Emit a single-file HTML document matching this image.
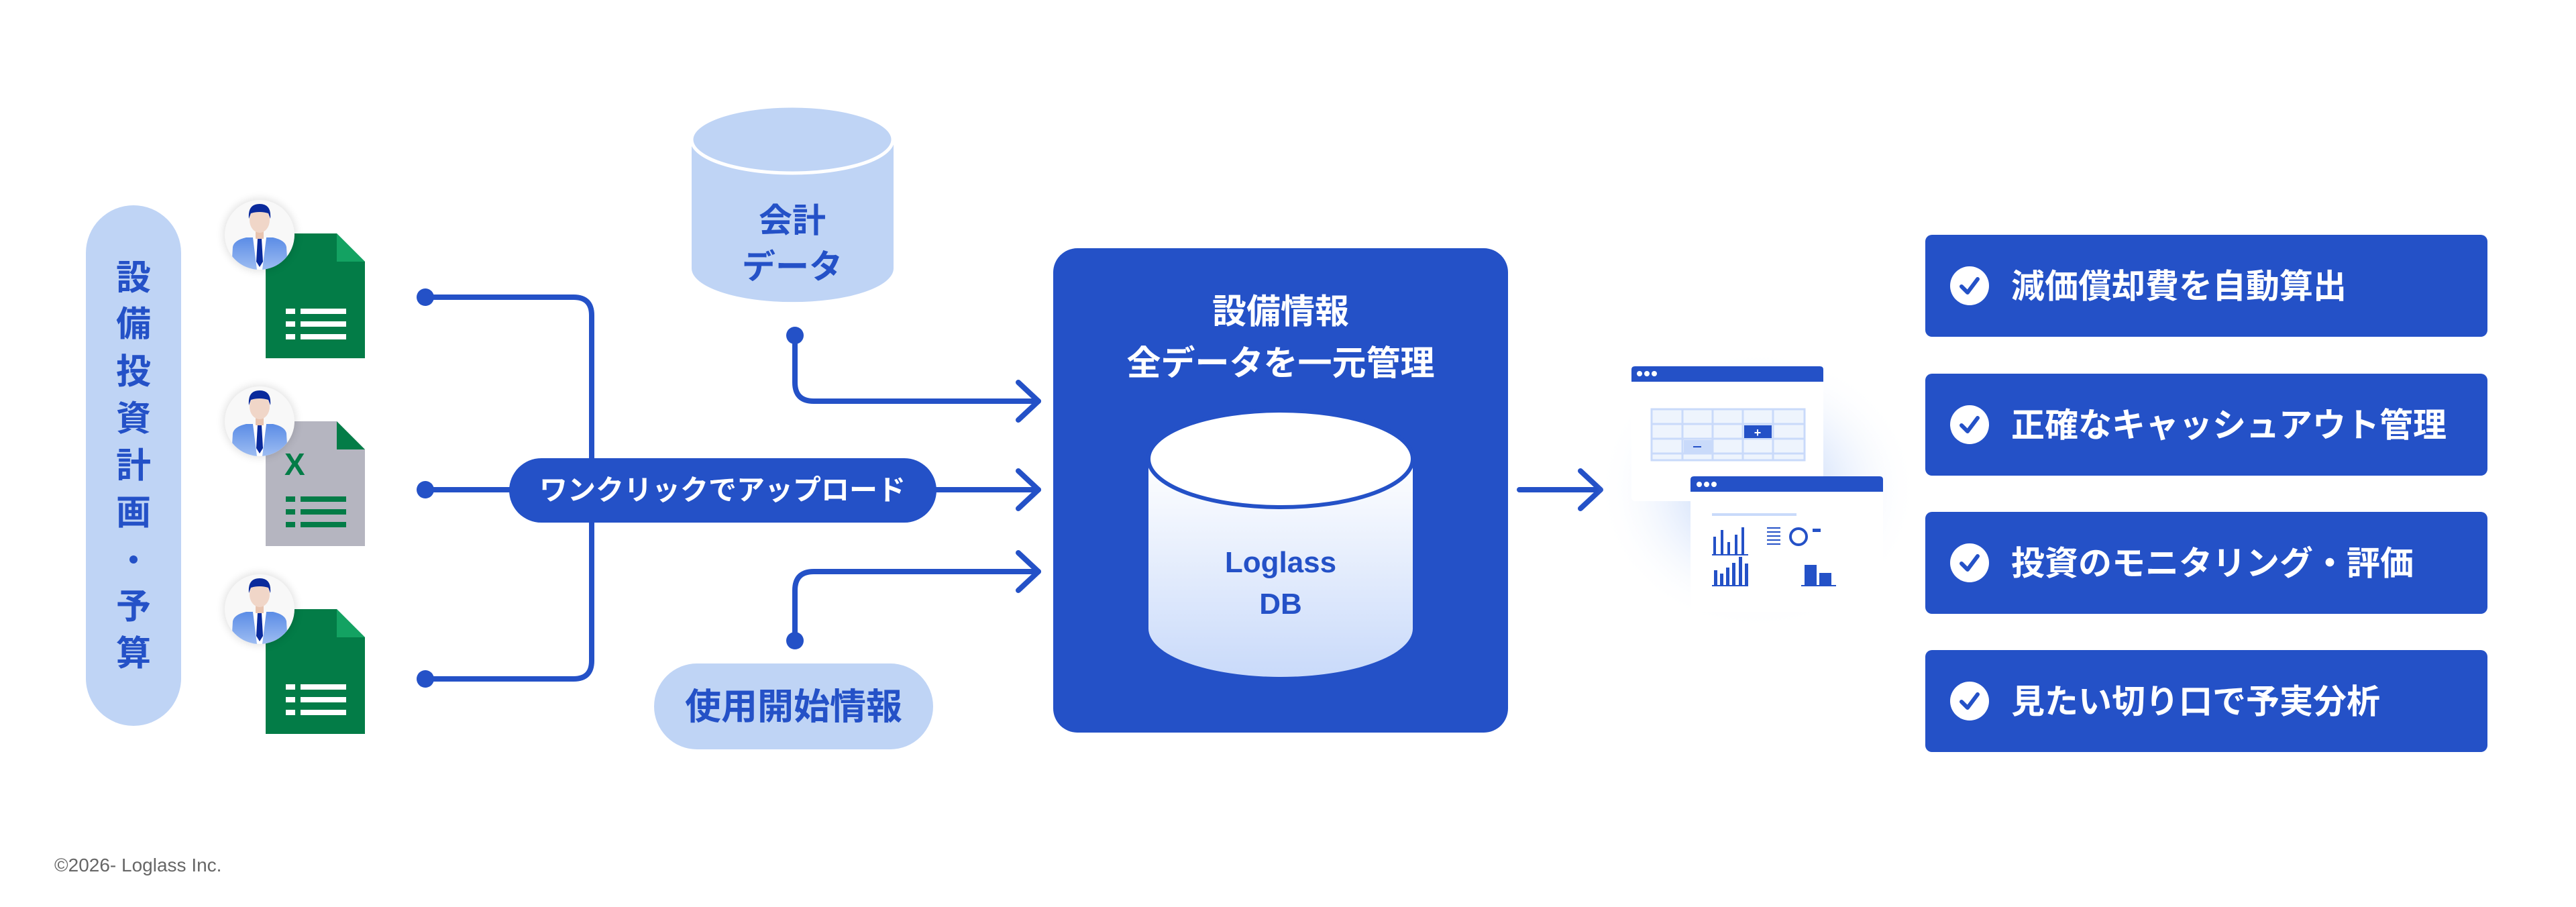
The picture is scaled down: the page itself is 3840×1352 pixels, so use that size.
<!DOCTYPE html>
<html><head><meta charset="utf-8"><style>
html,body{margin:0;padding:0;background:#fff;}
svg{display:block;}
text{font-family:"Liberation Sans","Noto Sans CJK JP",sans-serif;font-weight:bold;}
</style></head><body>
<svg width="3840" height="1352" viewBox="0 0 3840 1352" xmlns="http://www.w3.org/2000/svg">
<defs>
<linearGradient id="dbg" x1="0" y1="0" x2="0" y2="1"><stop offset="0" stop-color="#ffffff"/><stop offset="1" stop-color="#c9dafa"/></linearGradient>
<linearGradient id="suit" x1="0" y1="0" x2="0" y2="1"><stop offset="0" stop-color="#5b8ce6"/><stop offset="1" stop-color="#9dbcf2"/></linearGradient>
<radialGradient id="glow" cx="0.5" cy="0.5" r="0.5"><stop offset="0.4" stop-color="#d4e2fb" stop-opacity="0.8"/><stop offset="1" stop-color="#ffffff" stop-opacity="0"/></radialGradient>
<filter id="sh" x="-30%" y="-30%" width="160%" height="160%"><feGaussianBlur stdDeviation="6"/></filter>
<g id="person">
<circle r="54" fill="#000" opacity="0.12" filter="url(#sh)"/>
<circle r="52" fill="#f8f8f8"/>
<clipPath id="pc"><circle r="52"/></clipPath>
<g clip-path="url(#pc)">
<path d="M-42 52 L-40 18 Q-38 8 -20 4 L20 4 Q38 8 40 18 L42 52 Z" fill="url(#suit)"/>
<path d="M-10 4 L10 4 L4 52 L-4 52 Z" fill="#fff"/>
<path d="M-3 6 L3 6 L5 40 L0 48 L-5 40 Z" fill="#0a2a9c"/>
<rect x="-6" y="-8" width="12" height="14" fill="#e8c4b0"/>
<ellipse cx="0" cy="-22" rx="15" ry="19" fill="#f0d6c8"/>
<path d="M-16 -24 Q-18 -46 0 -46 Q18 -46 16 -24 L13 -32 Q0 -36 -13 -32 Z" fill="#0a2a9c"/>
</g>
</g>
<g id="sheet">
<path d="M0 0 L106 0 L148 42 L148 186 L0 186 Z" fill="#037c47"/>
<path d="M106 0 L148 42 L106 42 Z" fill="#13a262"/>
<g fill="#fff"><rect x="30" y="112" width="14" height="8"/><rect x="52" y="112" width="68" height="8"/><rect x="30" y="131" width="14" height="8"/><rect x="52" y="131" width="68" height="8"/><rect x="30" y="150" width="14" height="8"/><rect x="52" y="150" width="68" height="8"/></g>
</g>
</defs>

<rect x="128" y="306" width="142" height="776" rx="71" fill="#bfd4f5"/>
<g fill="#2451c7" font-size="52" text-anchor="middle">
<text x="199" y="432">設</text><text x="199" y="501">備</text><text x="199" y="572">投</text><text x="199" y="642">資</text><text x="199" y="712">計</text><text x="199" y="782">画</text>
<circle cx="199" cy="834" r="6"/>
<text x="199" y="922">予</text><text x="199" y="992">算</text>
</g>

<use href="#sheet" x="396" y="348"/>
<g transform="translate(396,628)">
<path d="M0 0 L106 0 L148 42 L148 186 L0 186 Z" fill="#b5b5c0"/>
<path d="M106 0 L148 42 L106 42 Z" fill="#037c47"/>
<text x="28" y="80" font-size="46" fill="#037c47" font-family="Liberation Sans">X</text>
<g fill="#037c47"><rect x="30" y="112" width="14" height="8"/><rect x="52" y="112" width="68" height="8"/><rect x="30" y="131" width="14" height="8"/><rect x="52" y="131" width="68" height="8"/><rect x="30" y="150" width="14" height="8"/><rect x="52" y="150" width="68" height="8"/></g>
</g>
<use href="#sheet" x="396" y="908"/>
<use href="#person" x="387" y="350"/>
<use href="#person" x="387" y="628"/>
<use href="#person" x="387" y="908"/>

<g fill="none" stroke="#2451c7" stroke-width="8" stroke-linecap="round" stroke-linejoin="round">
<path d="M634 443 L855 443 Q882 443 882 470 L882 985 Q882 1012 855 1012 L634 1012"/>
<path d="M634 730 L1548 730"/>
<path d="M1185 500 L1185 570 Q1185 598 1213 598 L1548 598"/>
<path d="M1185 955 L1185 880 Q1185 852 1213 852 L1548 852"/>
<path d="M1518 570 L1548 598 L1518 626 M1518 702 L1548 730 L1518 758 M1518 824 L1548 852 L1518 880"/>
<path d="M2265 730 L2385 730 M2356 702 L2386 730 L2356 758"/>
</g>
<g fill="#2451c7"><circle cx="634" cy="443" r="13"/><circle cx="634" cy="730" r="13"/><circle cx="634" cy="1012" r="13"/><circle cx="1185" cy="500" r="13"/><circle cx="1185" cy="955" r="13"/></g>

<rect x="759" y="683" width="637" height="96" rx="48" fill="#2451c7"/>
<text x="1077" y="745" font-size="42" fill="#fff" text-anchor="middle">ワンクリックでアップロード</text>

<path d="M1031 208 L1031 400 A150 50 0 0 0 1332 400 L1332 208 Z" fill="#bfd4f5"/>
<ellipse cx="1181" cy="208" rx="150" ry="50" fill="#bfd4f5" stroke="#fff" stroke-width="5"/>
<text x="1181" y="346" font-size="50" fill="#2451c7" text-anchor="middle">会計</text>
<text x="1181" y="415" font-size="50" fill="#2451c7" text-anchor="middle">データ</text>

<rect x="975" y="989" width="416" height="128" rx="64" fill="#bfd4f5"/>
<text x="1183" y="1072" font-size="54" fill="#2451c7" text-anchor="middle">使用開始情報</text>

<rect x="1570" y="370" width="678" height="722" rx="36" fill="#2451c7"/>
<text x="1909" y="482" font-size="51" fill="#fff" text-anchor="middle">設備情報</text>
<text x="1909" y="559" font-size="51" fill="#fff" text-anchor="middle">全データを一元管理</text>
<path d="M1712 684 L1712 937 A197 72 0 0 0 2106 937 L2106 684 Z" fill="url(#dbg)"/>
<ellipse cx="1909" cy="684" rx="197" ry="72" fill="#fff" stroke="#2451c7" stroke-width="6"/>
<text x="1909" y="853" font-size="44" fill="#2451c7" text-anchor="middle">Loglass</text>
<text x="1909" y="915" font-size="44" fill="#2451c7" text-anchor="middle">DB</text>

<ellipse cx="2620" cy="730" rx="240" ry="210" fill="url(#glow)"/>
<g>
<rect x="2432" y="546" width="286" height="201" rx="5" fill="#fff"/>
<path d="M2432 551 Q2432 546 2437 546 L2713 546 Q2718 546 2718 551 L2718 569 L2432 569 Z" fill="#2451c7"/>
<g fill="#fff"><circle cx="2444" cy="557" r="4"/><circle cx="2455" cy="557" r="4"/><circle cx="2466" cy="557" r="4"/></g>
<rect x="2462" y="610" width="228" height="76" fill="#eef4fd" stroke="#c9dafa" stroke-width="3"/>
<g stroke="#c9dafa" stroke-width="3"><path d="M2508 610 V686 M2553 610 V686 M2598 610 V686 M2643 610 V686 M2462 632 H2690 M2462 654 H2690 M2462 676 H2690"/></g>
<rect x="2600" y="634" width="41" height="19" fill="#2451c7"/><text x="2620" y="651" font-size="18" fill="#fff" text-anchor="middle">+</text>
<rect x="2510" y="656" width="42" height="19" fill="#c9dafa"/><rect x="2524" y="665" width="12" height="2" fill="#2451c7"/>
</g>
<g>
<rect x="2520" y="710" width="287" height="203" rx="5" fill="#fff"/>
<path d="M2520 715 Q2520 710 2525 710 L2802 710 Q2807 710 2807 715 L2807 733 L2520 733 Z" fill="#2451c7"/>
<g fill="#fff"><circle cx="2533" cy="722" r="4"/><circle cx="2544" cy="722" r="4"/><circle cx="2555" cy="722" r="4"/></g>
<rect x="2552" y="765" width="126" height="4" fill="#c9dafa"/>
<g fill="#2451c7"><rect x="2554" y="800" width="4" height="26"/><rect x="2565" y="790" width="4" height="36"/><rect x="2575" y="808" width="4" height="18"/><rect x="2586" y="797" width="4" height="29"/><rect x="2596" y="786" width="4" height="40"/>
<rect x="2555" y="850" width="5" height="22"/><rect x="2564" y="855" width="5" height="17"/><rect x="2573" y="846" width="5" height="26"/><rect x="2582" y="839" width="5" height="33"/><rect x="2592" y="830" width="5" height="42"/><rect x="2601" y="840" width="5" height="32"/>
<rect x="2690" y="842" width="18" height="30"/><rect x="2712" y="854" width="18" height="18"/><rect x="2702" y="788" width="12" height="5"/></g>
<rect x="2552" y="826" width="54" height="2" fill="#2451c7"/><rect x="2552" y="872" width="54" height="2" fill="#2451c7"/><rect x="2685" y="872" width="52" height="2" fill="#2451c7"/>
<circle cx="2681" cy="800" r="12" fill="none" stroke="#2451c7" stroke-width="4"/>
<g fill="#2451c7"><rect x="2634" y="786" width="20" height="2"/><rect x="2634" y="792" width="20" height="2"/><rect x="2634" y="798" width="20" height="2"/><rect x="2634" y="804" width="20" height="2"/><rect x="2634" y="810" width="20" height="2"/></g>
</g>

<g font-size="50" fill="#fff">
<rect x="2870" y="350" width="838" height="152" rx="10" fill="#2451c7"/>
<rect x="2870" y="557" width="838" height="152" rx="10" fill="#2451c7"/>
<rect x="2870" y="763" width="838" height="152" rx="10" fill="#2451c7"/>
<rect x="2870" y="969" width="838" height="152" rx="10" fill="#2451c7"/>
<g fill="#fff"><circle cx="2936" cy="426" r="29"/><circle cx="2936" cy="633" r="29"/><circle cx="2936" cy="839" r="29"/><circle cx="2936" cy="1045" r="29"/></g>
<g fill="none" stroke="#2451c7" stroke-width="6" stroke-linecap="round" stroke-linejoin="round">
<path d="M2924 427 L2933 436 L2948 416"/><path d="M2924 634 L2933 643 L2948 623"/><path d="M2924 840 L2933 849 L2948 829"/><path d="M2924 1046 L2933 1055 L2948 1035"/></g>
<text x="2998" y="444">減価償却費を自動算出</text>
<text x="2998" y="651">正確なキャッシュアウト管理</text>
<text x="2998" y="857">投資のモニタリング・評価</text>
<text x="2998" y="1063">見たい切り口で予実分析</text>
</g>

<text x="81" y="1299" font-size="28" fill="#666" style="font-weight:normal">©2026- Loglass Inc.</text>
</svg>
</body></html>
